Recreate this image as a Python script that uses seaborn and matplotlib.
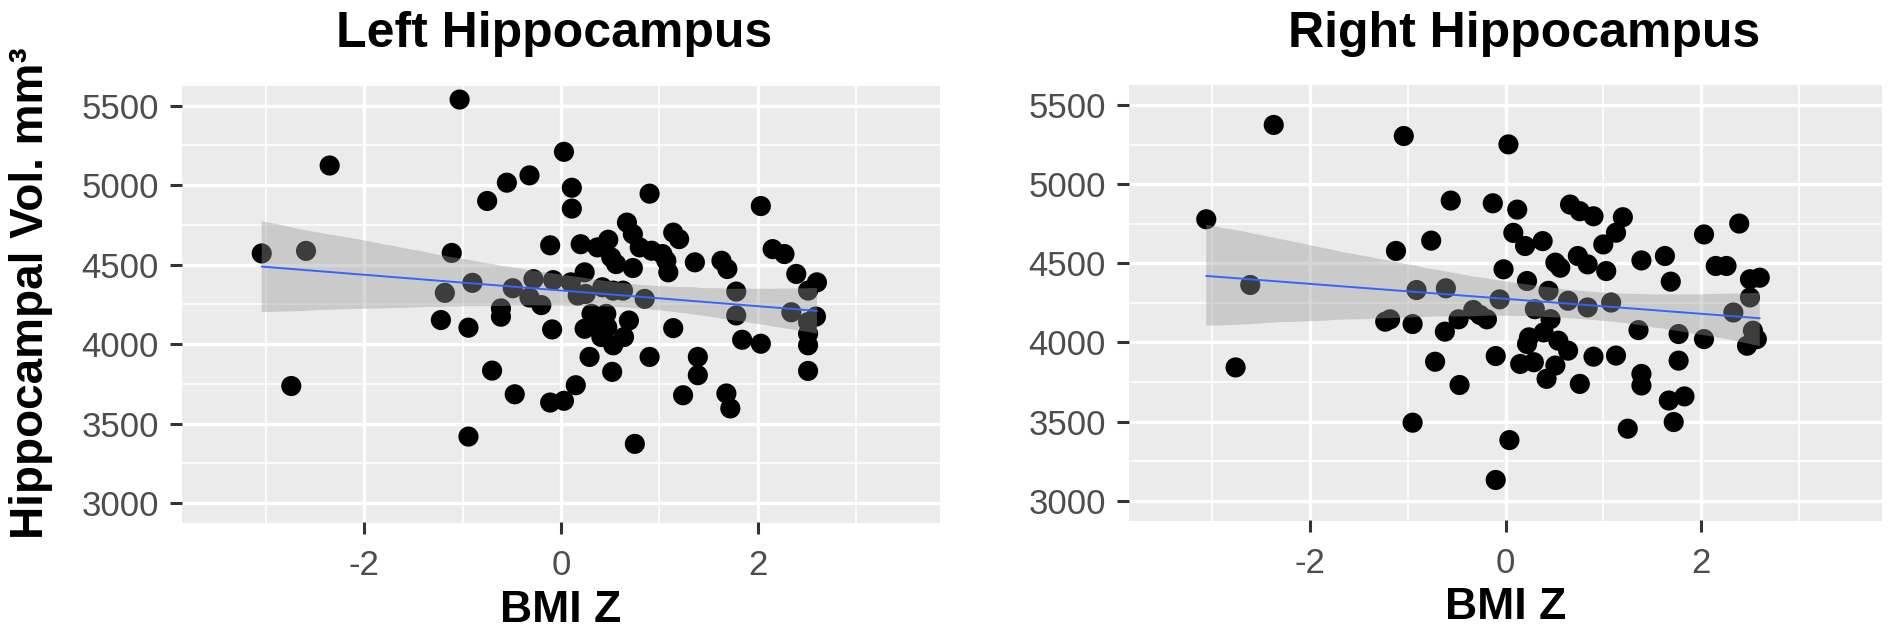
import numpy as np
import pandas as pd
import matplotlib
matplotlib.use("Agg")
import matplotlib.pyplot as plt
import matplotlib.transforms as mtransforms
from matplotlib.ticker import MultipleLocator
import seaborn as sns

# Värden (BMI z-poäng och hippocampusvolym i mm3)
left_bmi_z = [-3.04, -2.59, -2.35, -2.74, -1.03, -1.11, -1.18, -1.22, -0.94, -0.94,
              -0.90, -0.75, -0.70, -0.55, -0.32, -0.61, -0.61, -0.47, -0.49, -0.32,
              -0.20, -0.28, -0.11, -0.11, -0.08, -0.09,
              0.03, 0.11, 0.11, 0.90, 2.03, 0.20, 0.67, 0.73, 0.48, 0.37,
              0.51, 0.56, 0.73, 0.80, 0.92, 1.03, 1.07, 1.09, 1.14, 1.20,
              1.36, 1.63, 1.69, 2.15, 2.27, 2.39, 2.60, 2.51, 1.78, 1.78,
              2.34, 2.59, 2.51, 2.51, 2.51, 2.51, 1.84, 2.03, 0.24, 0.10,
              0.17, 0.25, 0.42, 0.53, 0.63, 0.85, 0.31, 0.46, 0.69, 0.24,
              0.41, 0.47, 0.41, 0.53, 0.64, 1.14, 0.29, 0.52, 0.90, 1.39,
              1.39, 0.15, 0.03, 1.24, 1.68, 1.72, 0.75]
left_volume = [4570, 4586, 5123, 3736, 5538, 4573, 4322, 4151, 4103, 3418,
               4385, 4900, 3833, 5015, 5061, 4224, 4172, 3684, 4351, 4293,
               4245, 4408, 4621, 3632, 4402, 4092,
               5209, 4983, 4852, 4946, 4868, 4628, 4764, 4691, 4656, 4608,
               4545, 4503, 4478, 4608, 4587, 4566, 4524, 4451, 4701, 4660,
               4514, 4524, 4472, 4597, 4566, 4441, 4388, 4336, 4330, 4180,
               4200, 4173, 4138, 4065, 3992, 3831, 4027, 4002, 4451, 4388,
               4305, 4315, 4357, 4336, 4336, 4284, 4190, 4190, 4148, 4096,
               4117, 4106, 4044, 3992, 4044, 4100, 3919, 3825, 3919, 3919,
               3804, 3741, 3643, 3678, 3689, 3595, 3372]

right_bmi_z = [-3.06, -2.61, -2.76, -2.37, -1.04, 0.03, -0.56, -0.13, -0.76, -1.12,
               -0.02, -0.91, -0.61, -0.06, -1.23, -1.18, -0.95, -0.62, -0.48, -0.33,
               -0.26, -0.19, -0.72, -0.47, -0.10, 0.15, -0.95, 0.04, -0.10,
               0.12, 0.08, 0.20, 0.38, 0.66, 0.76, 0.90, 1.20, 1.13, 1.00,
               0.74, 0.84, 1.03, 0.51, 0.56, 1.39, 1.63, 1.69, 2.03, 2.39,
               2.15, 2.26, 2.50, 2.60, 2.50, 2.33, 2.53, 2.57, 2.47, 1.77,
               2.03, 1.36, 1.77, 1.08, 0.84, 0.64, 0.44, 0.22, 0.30, 0.46,
               0.24, 0.39, 0.22, 0.54, 0.64, 0.29, 0.51, 0.42, 0.76, 0.90,
               1.13, 1.39, 1.39, 1.67, 1.83, 1.72, 1.25]
right_volume = [4778, 4363, 3842, 5374, 5304, 5251, 4896, 4879, 4643, 4578,
                4462, 4331, 4342, 4272, 4131, 4146, 4116, 4068, 4146, 4205,
                4173, 4146, 3878, 3731, 3914, 3864, 3493, 3383, 3131,
                4839, 4692, 4609, 4640, 4871, 4829, 4797, 4791, 4693, 4619,
                4546, 4493, 4451, 4504, 4472, 4518, 4546, 4384, 4682, 4751,
                4483, 4483, 4399, 4409, 4284, 4189, 4074, 4021, 3979, 4053,
                4021, 4078, 3885, 4252, 4221, 4263, 4326, 4388, 4210, 4147,
                4032, 4063, 3990, 4011, 3948, 3875, 3854, 3770, 3738, 3910,
                3917, 3801, 3728, 3633, 3659, 3497, 3455]

panel_titles = ["Left Hippocampus", "Right Hippocampus"]
x_ticks = [-2, 0, 2]
x_tick_labels = ["-2", "0", "2"]
y_ticks = [3000, 3500, 4000, 4500, 5000, 5500]
y_tick_labels = ["3000", "3500", "4000", "4500", "5000", "5500"]

sns.set_style("darkgrid")
plt.rcParams['font.family'] = ['Liberation Sans', 'DejaVu Sans']

W, H = 1893, 633
fig = plt.figure(figsize=(W / 100, H / 100), dpi=100)

# axlarnas placering i pixlar (vänster, höger, topp, botten)
ax_left = fig.add_axes([182 / W, 1 - 522.9 / H, 758 / W, 437.2 / H])
ax_right = fig.add_axes([1129 / W, 1 - 520.5 / H, 753 / W, 435.3 / H])

panels = [
    (ax_left, pd.DataFrame({"bmi_z": left_bmi_z, "vol": left_volume}), panel_titles[0], 0.491, 28),
    (ax_right, pd.DataFrame({"bmi_z": right_bmi_z, "vol": right_volume}), panel_titles[1], 0.525, 27.7),
]

TICK_LEN = 8  # punkter

for ax, df, title, title_x, title_pad in panels:
    ax.set_facecolor("#EBEBEB")
    for side in ax.spines.values():
        side.set_visible(False)

    # punkter först, sedan regressionslinje med konfidensband ovanpå (som i ggplot)
    sns.scatterplot(data=df, x="bmi_z", y="vol", ax=ax, color="black", s=210,
                    edgecolor="none", linewidth=0, zorder=3)
    sns.regplot(data=df, x="bmi_z", y="vol", ax=ax, scatter=False, ci=95,
                n_boot=2000, seed=1, color="#999999",
                line_kws={"color": "#3366FF", "linewidth": 1.4, "zorder": 5})
    band = ax.collections[-1]
    band.set_facecolor("#999999")
    band.set_alpha(0.4)
    band.set_zorder(4)
    band.set_edgecolor("none")

    ax.set_xlim(-3.85, 3.85)
    ax.set_ylim(2875, 5625)
    ax.set_xticks(x_ticks)
    ax.set_xticklabels(x_tick_labels)
    ax.set_yticks(y_ticks)
    ax.set_yticklabels(y_tick_labels)
    ax.xaxis.set_minor_locator(MultipleLocator(1))
    ax.yaxis.set_minor_locator(MultipleLocator(250))

    ax.grid(which="major", color="white", linewidth=2.4)
    ax.grid(which="minor", color="white", linewidth=1.2)
    ax.set_axisbelow(True)
    ax.tick_params(which="both", length=0, labelsize=25, labelcolor="#4D4D4D")
    ax.tick_params(axis="x", which="major", pad=11 + TICK_LEN)
    ax.tick_params(axis="y", which="major", pad=8.5 + TICK_LEN)

    # egna tickstreck utanför panelen (som ggplot)
    half = TICK_LEN / 2 / 72
    x_trans = ax.get_xaxis_transform() + mtransforms.ScaledTranslation(0, -half, fig.dpi_scale_trans)
    y_trans = ax.get_yaxis_transform() + mtransforms.ScaledTranslation(-half, 0, fig.dpi_scale_trans)
    ax.plot(x_ticks, [0] * len(x_ticks), transform=x_trans, linestyle="none",
            marker="|", markersize=TICK_LEN, markeredgewidth=2.2,
            color="#333333", clip_on=False, zorder=10)
    ax.plot([0] * len(y_ticks), y_ticks, transform=y_trans, linestyle="none",
            marker="_", markersize=TICK_LEN, markeredgewidth=2.2,
            color="#333333", clip_on=False, zorder=10)

    ax.set_xlabel("BMI Z", fontsize=32, fontweight="bold", color="black")
    ax.xaxis.set_label_coords(0.5, -0.153)
    ax.set_ylabel("")
    ax.set_title(title, fontsize=36, fontweight="bold", color="black",
                 x=title_x, pad=title_pad)

ax_left.set_ylabel("Hippocampal Vol. mm³", fontsize=33, fontweight="bold", color="black")
ax_left.yaxis.set_label_coords(-0.170, 0.525)

fig.savefig("out.png", dpi=100)
